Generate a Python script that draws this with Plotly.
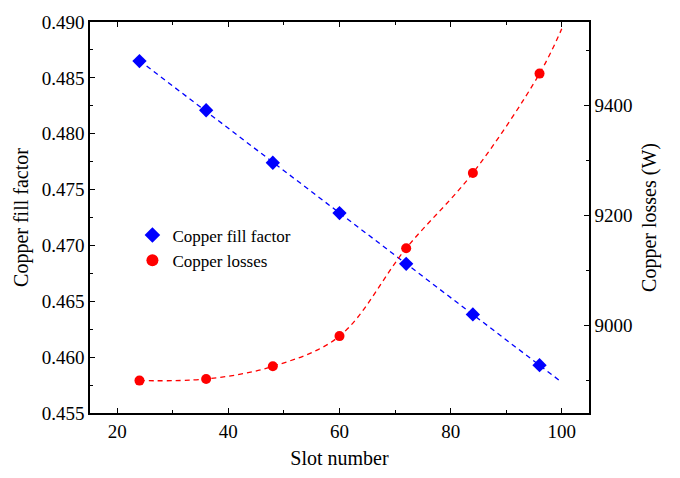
import numpy as np
import plotly.graph_objects as go

slots = [24, 36, 48, 60, 72, 84, 96]
fill_factor = [0.4865, 0.4821, 0.4774, 0.4729, 0.46835, 0.46382, 0.45928]
copper_losses = [8899, 8902, 8925, 8980, 9140, 9277, 9458]
fit_end = 100

# linear fit for the fill factor
coef_ff = np.polyfit(slots, fill_factor, 1)
x_ff = np.linspace(slots[0], fit_end, 50)
y_ff = np.polyval(coef_ff, x_ff)

# smooth curve through the losses, extended to x=100 with a cubic on the last four points
coef_end = np.polyfit(slots[-4:], copper_losses[-4:], 3)
x_cl = slots + [fit_end]
y_cl = copper_losses + [float(np.polyval(coef_end, fit_end))]

FONT = "Liberation Serif"
BLUE = "#0000FF"
RED = "#FF0000"

fig = go.Figure()
fig.add_trace(go.Scatter(x=x_ff, y=y_ff, mode="lines", showlegend=False,
                         line=dict(color=BLUE, width=1.3, dash="5px,4px"), hoverinfo="skip"))
fig.add_trace(go.Scatter(x=x_cl, y=y_cl, mode="lines", showlegend=False, yaxis="y2",
                         line=dict(color=RED, width=1.3, dash="5px,4px", shape="spline", smoothing=1.0),
                         hoverinfo="skip"))
fig.add_trace(go.Scatter(x=slots, y=fill_factor, mode="markers", name="Copper fill factor",
                         marker=dict(symbol="diamond", size=11, color=BLUE)))
fig.add_trace(go.Scatter(x=slots, y=copper_losses, mode="markers", name="Copper losses", yaxis="y2",
                         marker=dict(symbol="circle", size=10, color=RED)))

axis_common = dict(showline=True, linecolor="black", linewidth=1.5, ticks="inside", ticklen=5,
                   tickwidth=1.2, tickcolor="black", showgrid=False, zeroline=False,
                   tickfont=dict(family=FONT, size=19, color="black"))

fig.update_layout(
    width=680, height=478,
    margin=dict(l=90, r=91, t=13, b=64),
    paper_bgcolor="white", plot_bgcolor="white",
    font=dict(family=FONT, color="black"),
    xaxis=dict(range=[15.1, 104.9], tickmode="linear", tick0=20, dtick=20, mirror="ticks",
               minor=dict(ticks="inside", dtick=10, tick0=20, ticklen=3, tickcolor="black", showgrid=False),
               title=dict(text="Slot number", font=dict(family=FONT, size=20), standoff=10),
               **axis_common),
    yaxis=dict(range=[0.455, 0.490], tickmode="linear", tick0=0.455, dtick=0.005, tickformat=".3f",
               minor=dict(ticks="inside", dtick=0.0025, ticklen=3, tickcolor="black", showgrid=False),
               title=dict(text="Copper fill factor", font=dict(family=FONT, size=20), standoff=8),
               **axis_common),
    yaxis2=dict(range=[8840, 9552], overlaying="y", side="right", tickmode="linear", tick0=9000, dtick=200,
                minor=dict(ticks="inside", dtick=100, tick0=8900, ticklen=3, tickcolor="black", showgrid=False),
                title=dict(text="Copper losses (W)", font=dict(family=FONT, size=20), standoff=10),
                **axis_common),
    legend=dict(x=0.085, y=0.5, xanchor="left", yanchor="top", bgcolor="rgba(0,0,0,0)",
                font=dict(family=FONT, size=17), itemsizing="constant", tracegroupgap=0),
)

fig.write_html("out.html")
